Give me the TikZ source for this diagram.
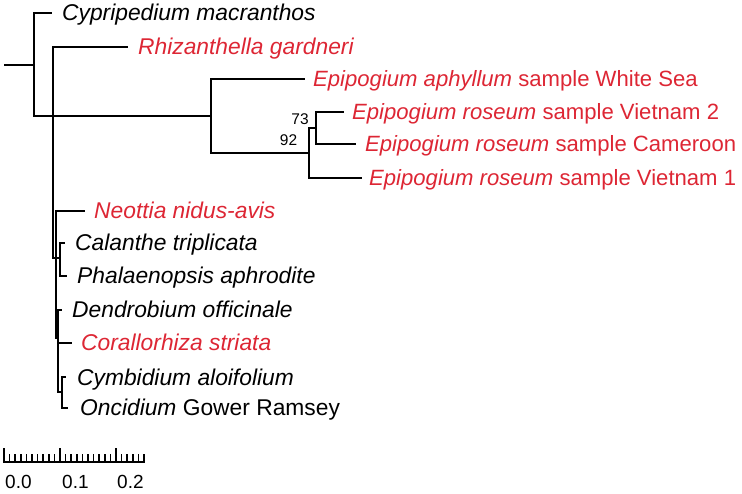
\documentclass[tikz,border=0pt]{standalone}
\usepackage{fontspec}
\setmainfont{Liberation Sans}
\definecolor{tred}{RGB}{221,38,52}
\begin{document}
\begin{tikzpicture}[x=1pt,y=-1pt,
  br/.style={line width=2.2pt},
  lab/.style={anchor=base west, inner sep=0pt, font=\fontsize{22.8}{27}\selectfont},
  redlab/.style={lab, text=tred},
  eplab/.style={redlab, font=\fontsize{22.1}{27}\selectfont},
  boot/.style={inner sep=0pt, font=\fontsize{15.5}{18}\selectfont},
  scalelab/.style={anchor=base west, inner sep=0pt, font=\fontsize{19}{22}\selectfont}]
\useasboundingbox (0,0) rectangle (742,494);
% internal nodes
\coordinate (R0) at (4,65);
\coordinate (R) at (34,65);
\coordinate (N1) at (53,116);
\coordinate (E) at (211,116);
\coordinate (G92) at (309,153);
\coordinate (G73) at (316,128);
\coordinate (N2) at (56,258);
\coordinate (N3) at (60,258);
\coordinate (N4) at (58,338);
\coordinate (N5) at (62,392);
% tips
\coordinate (tCyp) at (52,13);
\coordinate (tRhi) at (128,47);
\coordinate (tWS) at (305,79);
\coordinate (tV2) at (344,112);
\coordinate (tCam) at (356,144);
\coordinate (tV1) at (362,178);
\coordinate (tNeo) at (85,211);
\coordinate (tCal) at (65,243);
\coordinate (tPha) at (67,276);
\coordinate (tDen) at (62,310);
\coordinate (tCor) at (72,343);
\coordinate (tCym) at (66,377);
\coordinate (tOnc) at (68,408);
% labels
\node[lab] (lCyp) at (62,21) {\itshape Cypripedium macranthos};
\node[redlab] (lRhi) at (138,55) {\itshape Rhizanthella gardneri};
\node[eplab] (lWS) at (313,87) {\itshape Epipogium aphyllum\upshape\ sample White Sea};
\node[eplab] (lV2) at (352,120) {\itshape Epipogium roseum\upshape\ sample Vietnam 2};
\node[eplab] (lCam) at (365,152) {\itshape Epipogium roseum\upshape\ sample Cameroon};
\node[eplab] (lV1) at (369,186) {\itshape Epipogium roseum\upshape\ sample Vietnam 1};
\node[redlab] (lNeo) at (94,219) {\itshape Neottia nidus-avis};
\node[lab] (lCal) at (75,251) {\itshape Calanthe triplicata};
\node[lab] (lPha) at (77,284) {\itshape Phalaenopsis aphrodite};
\node[lab] (lDen) at (72,318) {\itshape Dendrobium officinale};
\node[redlab] (lCor) at (81,351) {\itshape Corallorhiza striata};
\node[lab] (lCym) at (77,385) {\itshape Cymbidium aloifolium};
\node[lab] (lOnc) at (80,416) {\itshape Oncidium\upshape\ Gower Ramsey};
% bootstrap values
\node[boot] (b73) at (300,119.5) {73};
\node[boot] (b92) at (288.5,140.5) {92};
% branches
\draw[br] (R0) -- (R);
\draw[br] (R) |- (tCyp);
\draw[br] (R) |- (N1);
\draw[br] (N1) |- (tRhi);
\draw[br] (N1) -- (E);
\draw[br] (E) |- (tWS);
\draw[br] (E) |- (G92);
\draw[br] (G92) |- (tV1);
\draw[br] (G92) |- (G73);
\draw[br] (G73) |- (tV2);
\draw[br] (G73) |- (tCam);
\draw[br] (N1) |- (N2);
\draw[br] (N2) |- (tNeo);
\draw[br] (N2) -- (N3);
\draw[br] (N3) |- (tCal);
\draw[br] (N3) |- (tPha);
\draw[br] (N2) |- (N4);
\draw[br] (N4) |- (tDen);
\draw[br] (N4) |- (tCor);
\draw[br] (N4) |- (N5);
\draw[br] (N5) |- (tCym);
\draw[br] (N5) |- (tOnc);
% scale bar
\draw[line width=1.7pt] (3,462) -- (145,462);
\foreach \i in {0,...,25}{
  \pgfmathsetmacro{\xx}{4+5.6*\i}
  \ifnum\i=0 \draw[line width=1.5pt] (\xx,462) -- (\xx,448);
  \else\ifnum\i=10 \draw[line width=1.5pt] (\xx,462) -- (\xx,448);
  \else\ifnum\i=20 \draw[line width=1.5pt] (\xx,462) -- (\xx,448);
  \else \draw[line width=1.5pt] (\xx,462) -- (\xx,454);
  \fi\fi\fi
}
\node[scalelab] (s0) at (5,488) {0.0};
\node[scalelab] (s1) at (62,488) {0.1};
\node[scalelab] (s2) at (117,488) {0.2};
\end{tikzpicture}
\end{document}
